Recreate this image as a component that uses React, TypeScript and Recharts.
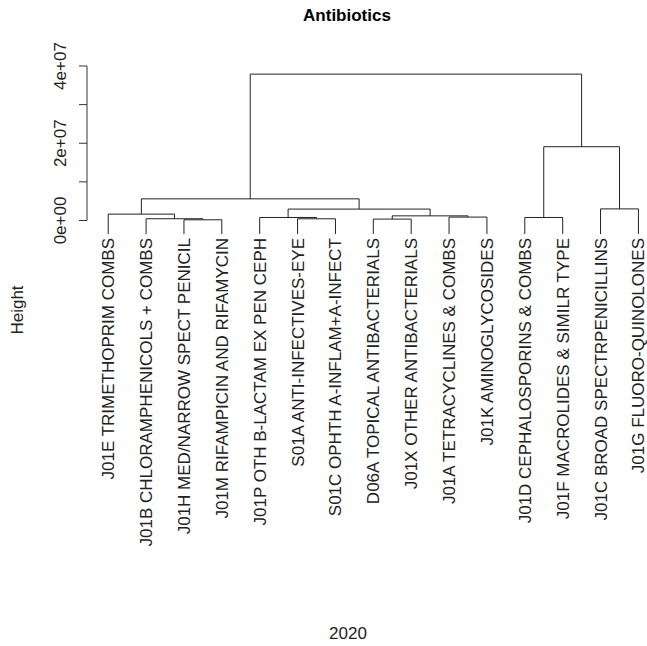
import React from 'react';
import { LineChart, Line, XAxis, YAxis, ReferenceLine } from 'recharts';

// leaves in plotted order (left to right)
const leafLabels = [
  'J01E TRIMETHOPRIM COMBS',
  'J01B CHLORAMPHENICOLS + COMBS',
  'J01H MED/NARROW SPECT PENICIL',
  'J01M RIFAMPICIN AND RIFAMYCIN',
  'J01P OTH B-LACTAM EX PEN CEPH',
  'S01A ANTI-INFECTIVES-EYE',
  'S01C OPHTH A-INFLAM+A-INFECT',
  'D06A TOPICAL ANTIBACTERIALS',
  'J01X OTHER ANTIBACTERIALS',
  'J01A TETRACYCLINES & COMBS',
  'J01K AMINOGLYCOSIDES',
  'J01D CEPHALOSPORINS & COMBS',
  'J01F MACROLIDES & SIMILR TYPE',
  'J01C BROAD SPECTRPENICILLINS',
  'J01G FLUORO-QUINOLONES',
];

// hclust-style merges: negative = leaf position, positive = earlier merge (1-based)
const mergeLeft = [-3, -6, -8, -2, -5, -12, -10, 3, -1, 5, -14, 9, 6, 12];
const mergeRight = [-4, -7, -9, 1, 2, -13, -11, 7, 4, 8, -15, 10, 11, 13];
const mergeHeight = [
  1.8e5, 4.4e5, 3.6e5, 4.5e5, 7.8e5, 7.8e5, 8.8e5, 1.2e6, 1.65e6, 2.95e6, 3.0e6, 5.6e6, 1.91e7, 3.79e7,
];
const leafHang = -3.5e6;

const yTicks = [0, 1e7, 2e7, 3e7, 4e7];
const yLabelTicks = [0, 2e7, 4e7];
const leafTicks = leafLabels.map((_, i) => i + 1);

const X_MIN = 0.44;
const X_MAX = 15.2;

// build the U-shaped links
const nodeX: number[] = [];
const nodeY: number[] = [];
const nodePos = (ref: number) =>
  ref < 0 ? { x: -ref, y: leafHang } : { x: nodeX[ref - 1], y: nodeY[ref - 1] };

const links = mergeHeight.map((h, i) => {
  const a = nodePos(mergeLeft[i]);
  const b = nodePos(mergeRight[i]);
  nodeX[i] = (a.x + b.x) / 2;
  nodeY[i] = h;
  return [
    { x: a.x, y: a.y },
    { x: a.x, y: h },
    { x: b.x, y: h },
    { x: b.x, y: b.y },
  ];
});

const sci = (v: number) =>
  v.toExponential().replace(/e([+-])(\d)$/, 'e$10$2');

const FONT = '"Liberation Sans", Arial, sans-serif';
const FS = 17;

const YTick = (props: any) => {
  const { x, y, payload } = props;
  if (!yLabelTicks.includes(payload.value)) return null;
  return (
    <text
      transform={`translate(${x - 11},${y}) rotate(-90)`}
      textAnchor="middle"
      fontSize={FS}
      fontFamily={FONT}
      fill="#222"
    >
      {sci(payload.value)}
    </text>
  );
};

const LeafTick = (props: any) => {
  const { x, y, payload } = props;
  return (
    <text
      transform={`translate(${x + 6},${y}) rotate(-90)`}
      textAnchor="end"
      fontSize={FS}
      fontFamily={FONT}
      fill="#222"
    >
      {leafLabels[payload.value - 1]}
    </text>
  );
};

export default function App() {
  return (
    <div style={{ position: 'relative', width: 647, height: 646, background: '#fff', fontFamily: FONT }}>
      <style>{'body{margin:0}'}</style>
      <div
        style={{
          position: 'absolute',
          left: 347,
          top: 16,
          transform: 'translate(-50%,-50%)',
          fontWeight: 'bold',
          fontSize: 17,
          color: '#000',
          whiteSpace: 'nowrap',
        }}
      >
        Antibiotics
      </div>
      <div
        style={{
          position: 'absolute',
          left: 18,
          top: 310,
          transform: 'translate(-50%,-50%) rotate(-90deg)',
          fontSize: FS,
          color: '#222',
          whiteSpace: 'nowrap',
        }}
      >
        Height
      </div>
      <div
        style={{
          position: 'absolute',
          left: 348,
          top: 634,
          transform: 'translate(-50%,-50%)',
          fontSize: FS,
          color: '#222',
          whiteSpace: 'nowrap',
        }}
      >
        2020
      </div>
      <LineChart width={647} height={646} margin={{ top: 66, right: 1, bottom: 392, left: 27 }}>
        <XAxis
          type="number"
          dataKey="x"
          domain={[X_MIN, X_MAX]}
          ticks={leafTicks}
          allowDataOverflow
          axisLine={false}
          tickLine={false}
          tickSize={0}
          tickMargin={4}
          height={20}
          interval={0}
          tick={<LeafTick />}
        />
        <YAxis
          type="number"
          domain={[leafHang, 4e7]}
          ticks={yTicks}
          allowDataOverflow
          axisLine={false}
          tickLine={{ stroke: '#333' }}
          tickSize={8}
          tickMargin={2}
          width={60}
          interval={0}
          tick={<YTick />}
        />
        <ReferenceLine
          segment={[
            { x: X_MIN, y: 0 },
            { x: X_MIN, y: 4e7 },
          ]}
          stroke="#333"
          ifOverflow="visible"
        />
        {links.map((d, i) => (
          <Line
            key={i}
            data={d}
            dataKey="y"
            type="linear"
            stroke="#222"
            strokeWidth={1}
            dot={false}
            activeDot={false}
            isAnimationActive={false}
          />
        ))}
      </LineChart>
    </div>
  );
}
